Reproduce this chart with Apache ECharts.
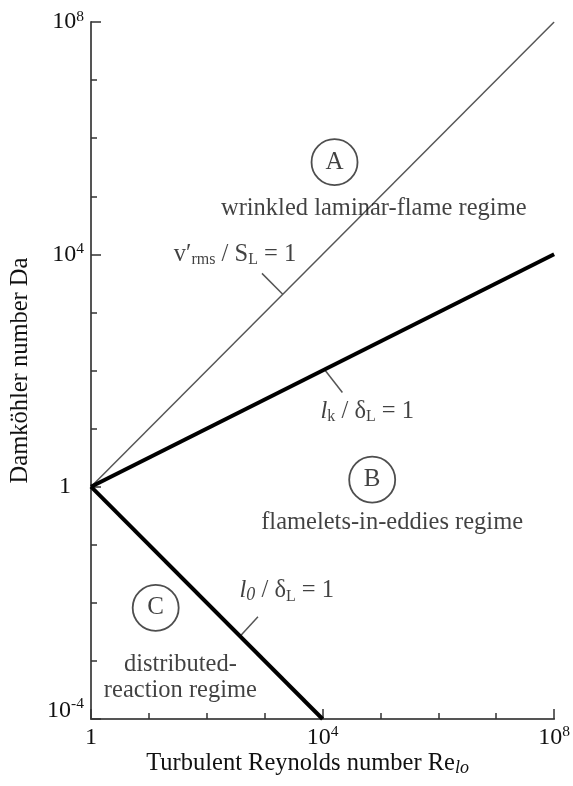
<!DOCTYPE html>
<html><head><meta charset="utf-8">
<script src="https://cdn.jsdelivr.net/npm/echarts@6/dist/echarts.min.js"></script>
<style>html,body{margin:0;padding:0;background:#fff}#c{width:573px;height:786px}</style>
</head><body><div id="c"></div>
<script>
// Regime boundary lines as [Re, Da]
const vrmsLine = [[1, 1], [1e8, 1e8]];   // v'rms / SL = 1
const lkLine   = [[1, 1], [1e8, 1e4]];   // lk / δL = 1
const l0Line   = [[1, 1], [1e4, 1e-4]];  // l0 / δL = 1
// Labelled tick values
const xTickLabels = [1, 1e4, 1e8];
const yTickLabels = [1e-4, 1, 1e4, 1e8];
// Annotations (data coordinates)
const regimeCircles = [[1.61e4, 3.86e5, 'A'], [7.2e4, 1.32, 'B'], [13.1, 8.2e-3, 'C']];
const regimeNames = [[7.66e4, 6.2e4, 'wrinkled laminar-flame regime'],
                     [1.59e5, 0.239, 'flamelets-in-eddies regime'],
                     [35, 5.1e-4, 'distributed-\nreaction regime']];
const lineLabels = [[308, 1e4, 'vrms'], [5.93e4, 19.6, 'lk'], [2410, 0.0161, 'l0']];
const leaders = [[[897, 4700], [2050, 2050]], [[2.2e4, 41.8], [1.08e4, 104]], [[766, 5.74e-3], [376, 2.66e-3]]];

const FF = 'Liberation Serif';
const TC = '#111';
const FS = 24.5;
const rich = {
  t: {fontFamily: FF, fontSize: FS, color: TC, lineHeight: 27},
  tk: {fontFamily: FF, fontSize: 24, color: TC, lineHeight: 27},
  one: {fontFamily: FF, fontSize: 24, color: TC, lineHeight: 27, padding: [0, 13, 0, 0]},
  low: {fontFamily: FF, fontSize: 24, color: TC, lineHeight: 27, padding: [0, 0, 16, 0]},
  lowsup: {fontFamily: FF, fontSize: 15.5, color: TC, lineHeight: 13, padding: [0, 0, 30, 0]},
  it: {fontFamily: FF, fontSize: FS, color: TC, lineHeight: 27, fontStyle: 'italic'},
  sub: {fontFamily: FF, fontSize: 16, color: TC, lineHeight: 16, verticalAlign: 'bottom'},
  subit: {fontFamily: FF, fontSize: 18, color: TC, lineHeight: 18, verticalAlign: 'bottom', fontStyle: 'italic'},
  sup: {fontFamily: FF, fontSize: 15.5, color: TC, lineHeight: 13, verticalAlign: 'top'}
};
const lineLabelText = {
  vrms: "{t|v′}{sub|rms}{t| / S}{sub|L}{t| = 1}",
  lk: "{it|l}{sub|k}{t| / δ}{sub|L}{t| = 1}",
  l0: "{it|l}{subit|0}{t| / δ}{sub|L}{t| = 1}"
};
function isListed(v, list) {
  return list.some(function (w) { return Math.abs(Math.log10(w) - Math.log10(v)) < 1e-6; });
}
function fmtX(v) {
  if (!isListed(v, xTickLabels)) return '';
  const e = Math.round(Math.log10(v));
  if (e === 0) return '{tk|1}';
  return '{tk|10}{sup|' + e + '}';
}
function fmtY(v) {
  if (!isListed(v, yTickLabels)) return '';
  const e = Math.round(Math.log10(v));
  if (e === 0) return '{one|1}';
  if (e < 0) return '{low|10}{lowsup|' + e + '}';
  return '{tk|10}{sup|' + e + '}';
}

const chart = echarts.init(document.getElementById('c'), null, {renderer: 'canvas'});
const axisLineStyle = {color: '#555', width: 2};
const baseX = {type: 'log', logBase: 10, min: 1, max: 1e8, gridIndex: 0, position: 'bottom', splitLine: {show: false}};
const baseY = {type: 'log', logBase: 10, min: 1e-4, max: 1e8, gridIndex: 0, position: 'left', splitLine: {show: false}};

const option = {
  backgroundColor: '#fff',
  animation: false,
  grid: {left: 90, right: 17, top: 22, bottom: 67, containLabel: false},
  xAxis: [
    Object.assign({}, baseX, {
      interval: 1,
      axisLine: {show: true, lineStyle: axisLineStyle},
      axisTick: {show: true, inside: true, length: 6, lineStyle: {color: '#333', width: 1.5}},
      axisLabel: {show: false},
      name: '{t|Turbulent Reynolds number Re}{subit|lo}',
      nameLocation: 'middle', nameGap: 31,
      nameTextStyle: {rich: rich, fontFamily: FF, fontSize: FS, color: TC, padding: [0, 30, 0, 0]}
    }),
    Object.assign({}, baseX, {
      interval: 4,
      axisLine: {show: false},
      axisTick: {show: true, inside: true, length: 10, lineStyle: {color: '#333', width: 1.5}},
      axisLabel: {show: true, margin: 5, rich: rich, showMinLabel: true, showMaxLabel: true, formatter: fmtX}
    })
  ],
  yAxis: [
    Object.assign({}, baseY, {
      interval: 1,
      axisLine: {show: true, lineStyle: axisLineStyle},
      axisTick: {show: true, inside: true, length: 6, lineStyle: {color: '#333', width: 1.5}},
      axisLabel: {show: false},
      name: 'Damköhler number Da',
      nameLocation: 'middle', nameGap: 58, nameRotate: 90,
      nameTextStyle: {fontFamily: FF, fontSize: 24.5, color: TC}
    }),
    Object.assign({}, baseY, {
      interval: 4,
      axisLine: {show: false},
      axisTick: {show: true, inside: true, length: 10, lineStyle: {color: '#333', width: 1.5}},
      axisLabel: {show: true, margin: 7, rich: rich, showMinLabel: true, showMaxLabel: true, formatter: fmtY}
    })
  ],
  series: [
    {type: 'line', data: vrmsLine, symbol: 'none', lineStyle: {color: '#555', width: 1.5}, z: 3},
    {type: 'line', data: lkLine, symbol: 'none', lineStyle: {color: '#000', width: 4}, z: 4},
    {type: 'line', data: l0Line, symbol: 'none', lineStyle: {color: '#000', width: 4}, z: 4}
  ].concat(leaders.map(function (seg) {
    return {type: 'line', data: seg, symbol: 'none', lineStyle: {color: '#555', width: 1.5}, z: 3};
  })).concat([
    {type: 'scatter', data: regimeCircles, symbol: 'circle', symbolSize: 46,
      itemStyle: {color: '#fff', borderColor: '#222', borderWidth: 1.8},
      label: {show: true, position: 'inside', fontFamily: FF, fontSize: 25, color: TC,
        formatter: function (p) { return p.data[2]; }}, z: 5},
    {type: 'scatter', data: regimeNames, symbolSize: 0, silent: true,
      label: {show: true, position: 'inside', fontFamily: FF, fontSize: FS, color: TC, lineHeight: 26,
        align: 'center', formatter: function (p) { return p.data[2]; }}, z: 5},
    {type: 'scatter', data: lineLabels, symbolSize: 0, silent: true,
      label: {show: true, position: 'inside', rich: rich,
        formatter: function (p) { return lineLabelText[p.data[2]]; }}, z: 5}
  ])
};
chart.setOption(option);
</script></body></html>
